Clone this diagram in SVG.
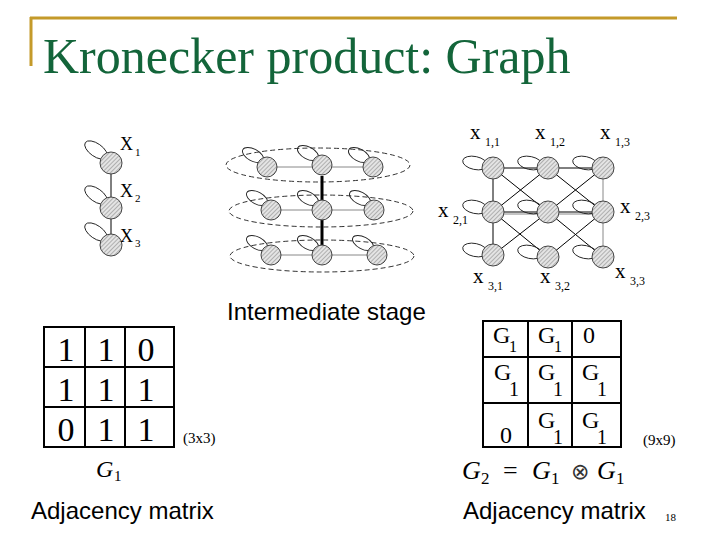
<svg xmlns="http://www.w3.org/2000/svg" xmlns:xlink="http://www.w3.org/1999/xlink" width="720" height="540" viewBox="0 0 720 540">
<style>
.title{font-family:"Liberation Serif",serif;font-size:50px;fill:#13653a}
.sans{font-family:"Liberation Sans",Arial,sans-serif;font-size:24px;fill:#000}
.ser{font-family:"Liberation Serif",serif;fill:#000}
.lbl{font-family:"Liberation Serif",serif;font-size:18px;fill:#000}
.sub{font-family:"Liberation Serif",serif;font-size:11px;fill:#000}
.xl{font-family:"Liberation Serif",serif;font-size:21px;fill:#000}
.sub2{font-family:"Liberation Serif",serif;font-size:12px;fill:#000}
.grid{fill:none;stroke:#000;stroke-width:2}
.edge{stroke:#000;stroke-width:1;fill:none}
.gedge{stroke:#888;stroke-width:1;fill:none}
.dash{fill:none;stroke:#333;stroke-width:1;stroke-dasharray:5 3}
.loop{fill:none;stroke:#222;stroke-width:0.9}
.node{fill:url(#hatch);stroke:#444;stroke-width:1}
</style>
<defs>
<pattern id="hatch" width="3" height="3" patternUnits="userSpaceOnUse" patternTransform="rotate(45)">
<rect width="3" height="3" fill="#e4e4e4"/>
<line x1="0" y1="0" x2="0" y2="3" stroke="#7a7a7a" stroke-width="1"/>
</pattern>
<g id="nUp">
<ellipse cx="-15" cy="-13" rx="13" ry="6.5" transform="rotate(35 -15 -13)" class="loop"/>
<circle r="11" class="node"/>
</g>
<g id="nUpS">
<ellipse cx="-14" cy="-12" rx="11.5" ry="6" transform="rotate(28 -14 -12)" class="loop"/>
<circle r="10" class="node"/>
</g>
<g id="nL">
<ellipse cx="-18" cy="-5" rx="12.5" ry="6.5" transform="rotate(12 -18 -5)" class="loop"/>
<circle r="11" class="node"/>
</g>
</defs>
<rect width="720" height="540" fill="#fff"/>

<g id="title">
<path d="M30 18 H677 M31 17 V66" stroke="#c49a2a" stroke-width="3" fill="none"/>
<text x="43" y="73" class="title">Kronecker product: Graph</text>
</g>

<g id="connectors">
<line x1="111" y1="163" x2="111" y2="245" class="edge"/>
<ellipse cx="318" cy="165" rx="92" ry="17" class="dash"/>
<ellipse cx="321" cy="211" rx="92" ry="16" class="dash"/>
<ellipse cx="322" cy="256" rx="92" ry="16" class="dash"/>
<path d="M267 167 H373 M271 210 H374 M271 255 H377" class="gedge"/>
<line x1="322" y1="176" x2="322" y2="246" stroke="#000" stroke-width="3"/>
<path d="M493 168 H603 M493 212 H603 M493 168 V255" class="edge"/>
<path d="M603 168 V257 M493 214 H603" class="gedge"/>
<path d="M493 168 L548 212 M548 168 L493 212 M548 168 L603 212 M603 168 L548 212 M493 212 L548 257 M548 212 L493 255 M603 212 L548 257 M548 212 L603 257" class="edge"/>
</g>

<g id="g1">
<use xlink:href="#nUp" x="111" y="163"/>
<use xlink:href="#nUp" x="111" y="208"/>
<use xlink:href="#nUp" x="111" y="245"/>
<text x="120" y="150" class="lbl">X</text><text x="135" y="156" class="sub">1</text>
<text x="120" y="197" class="lbl">X</text><text x="135" y="202" class="sub">2</text>
<text x="120" y="242" class="lbl">X</text><text x="135" y="247" class="sub">3</text>
</g>

<g id="intermediate">
<use xlink:href="#nUpS" x="267" y="167"/>
<use xlink:href="#nUpS" x="322" y="165"/>
<use xlink:href="#nUpS" x="373" y="167"/>
<use xlink:href="#nUpS" x="271" y="210"/>
<use xlink:href="#nUpS" x="322" y="210"/>
<use xlink:href="#nUpS" x="374" y="210"/>
<use xlink:href="#nUpS" x="271" y="255"/>
<use xlink:href="#nUpS" x="322" y="255"/>
<use xlink:href="#nUpS" x="377" y="255"/>
<text x="227" y="320" class="sans" font-size="23.5">Intermediate stage</text>
</g>

<g id="g2">
<use xlink:href="#nL" x="493" y="168"/>
<use xlink:href="#nL" x="548" y="168"/>
<use xlink:href="#nL" x="603" y="168"/>
<use xlink:href="#nL" x="493" y="212"/>
<use xlink:href="#nL" x="548" y="212"/>
<use xlink:href="#nL" x="603" y="212"/>
<use xlink:href="#nL" x="493" y="255"/>
<use xlink:href="#nL" x="548" y="257"/>
<use xlink:href="#nL" x="603" y="257"/>
<text x="470" y="139" class="xl">x</text><text x="485" y="146" class="sub2">1,1</text>
<text x="535" y="139" class="xl">x</text><text x="550" y="146" class="sub2">1,2</text>
<text x="600" y="139" class="xl">x</text><text x="615" y="146" class="sub2">1,3</text>
<text x="438" y="217" class="xl">x</text><text x="453" y="224" class="sub2">2,1</text>
<text x="620" y="213" class="xl">x</text><text x="635" y="220" class="sub2">2,3</text>
<text x="473" y="283" class="xl">x</text><text x="488" y="290" class="sub2">3,1</text>
<text x="540" y="283" class="xl">x</text><text x="555" y="290" class="sub2">3,2</text>
<text x="615" y="278" class="xl">x</text><text x="630" y="285" class="sub2">3,3</text>
</g>

<g id="matrix1">
<rect x="44" y="327" width="130" height="120" class="grid"/>
<path d="M85 327 V447 M125 327 V447 M44 367 H174 M44 407 H174" class="grid"/>
<g class="ser" font-size="34" text-anchor="middle">
<text x="66" y="361">1</text><text x="106" y="361">1</text><text x="146" y="361">0</text>
<text x="66" y="401">1</text><text x="106" y="401">1</text><text x="146" y="401">1</text>
<text x="66" y="441">0</text><text x="106" y="441">1</text><text x="146" y="441">1</text>
</g>
<text x="183" y="443" class="ser" font-size="15">(3x3)</text>
<text x="96" y="477" class="ser" font-size="24" font-style="italic">G</text><text x="114" y="481" class="ser" font-size="15">1</text>
<text x="31" y="519" class="sans">Adjacency matrix</text>
</g>

<g id="matrix2">
<rect x="483" y="321" width="138" height="126" class="grid"/>
<path d="M528 321 V447 M572 321 V447 M483 357 H621 M483 403 H621" class="grid"/>
<g class="ser" font-size="24">
<text x="493" y="343">G</text><text x="509" y="352" font-size="16">1</text>
<text x="538" y="343">G</text><text x="554" y="352" font-size="16">1</text>
<text x="583" y="343">0</text>
<text x="494" y="380">G</text><text x="509" y="396" font-size="20">1</text>
<text x="538" y="380">G</text><text x="553" y="396" font-size="20">1</text>
<text x="582" y="380">G</text><text x="597" y="396" font-size="20">1</text>
<text x="500" y="443">0</text>
<text x="538" y="428">G</text><text x="553" y="444" font-size="20">1</text>
<text x="582" y="428">G</text><text x="597" y="444" font-size="20">1</text>
</g>
<text x="643" y="445" class="ser" font-size="15">(9x9)</text>
<g class="ser" font-size="26">
<text x="462" y="479" font-style="italic">G</text><text x="481" y="484" font-size="17">2</text>
<text x="503" y="479">=</text>
<text x="532" y="479" font-style="italic">G</text><text x="551" y="484" font-size="17">1</text>
<text x="571" y="479" font-family="'DejaVu Sans',sans-serif" font-size="22" fill="#333">⊗</text>
<text x="597" y="479" font-style="italic">G</text><text x="616" y="484" font-size="17">1</text>
</g>
<text x="463" y="519" class="sans">Adjacency matrix</text>
<text x="665" y="521" class="ser" font-size="11">18</text>
</g>
</svg>
